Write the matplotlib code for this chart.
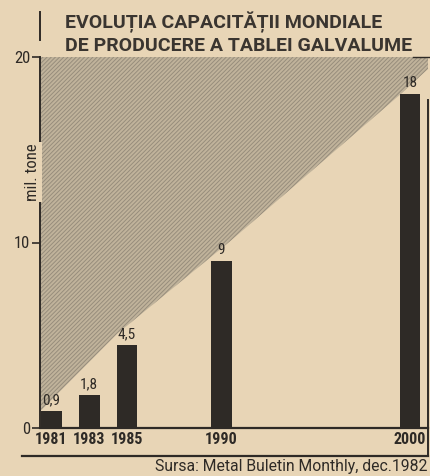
import matplotlib
matplotlib.use("Agg")
import matplotlib.pyplot as plt
from matplotlib.lines import Line2D

# ---- data ----
years = [1981, 1983, 1985, 1990, 2000]
values = [0.9, 1.8, 4.5, 9, 18]
value_labels = ["0,9", "1,8", "4,5", "9", "18"]
year_labels = ["1981", "1983", "1985", "1990", "2000"]
# upper hatched region lower boundary
env_years = [1980.4, 1984.5, 1990.5, 1999.5, 2001.0]
env_values = [0.9, 5.1, 10.1, 18.0, 19.4]
y_ticks = [0, 10, 20]
title_lines = ["EVOLUȚIA CAPACITĂȚII MONDIALE", "DE PRODUCERE A TABLEI GALVALUME"]
y_label = "mil. tone"
source = "Sursa: Metal Buletin Monthly, dec.1982"

plt.rcParams['font.family'] = ["Roboto Condensed", "DejaVu Sans"]
plt.rcParams['hatch.linewidth'] = 0.7

bg = "#e8d5b6"
ink = "#2e2a26"
W, H = 431, 476
fig = plt.figure(figsize=(W / 100, H / 100), dpi=100, facecolor=bg)

def fx(px): return px / W
def fy(py): return 1 - py / H

ax = fig.add_axes([fx(40), fy(428), fx(428) - fx(40), fy(57) - fy(428)])
ax.set_facecolor(bg)
ax.set_xlim(1980.39, 2000.95)
ax.set_ylim(0, 20)

ax.fill_between(env_years, env_values, 20, facecolor="#c0b39b", edgecolor="#978d7c",
                hatch="////////", linewidth=0, zorder=1)
ax.bar(years, values, width=1.1, color=ink, zorder=2)
for x, v, lab in zip(years, values, value_labels):
    ax.text(x, v + 0.2, lab, ha="center", va="bottom", fontsize=11, color=ink, zorder=3)

ax.spines["top"].set_visible(False)
ax.spines["right"].set_visible(False)
ax.spines["left"].set_color(ink)
ax.spines["bottom"].set_color(ink)
ax.spines["left"].set_linewidth(1.4)
ax.spines["bottom"].set_linewidth(1.6)

ax.set_yticks(y_ticks)
ax.set_yticklabels([str(t) for t in y_ticks], fontsize=12, color=ink)
ax.tick_params(axis="y", direction="out", length=6, width=1.2, color=ink, pad=1)
ax.set_xticks(years)
ax.set_xticklabels(year_labels, fontsize=11.5, color=ink, fontweight="bold")
ax.tick_params(axis="x", length=0, pad=3)

fig.text(fx(33), fy(172), y_label, rotation=90, ha="center", va="center", fontsize=12,
         color=ink, bbox=dict(facecolor=bg, edgecolor="none", pad=1))

# frame lines
fig.add_artist(Line2D([fx(40), fx(40)], [fy(12), fy(40)], color=ink, lw=1.4))
fig.add_artist(Line2D([fx(428), fx(428)], [fy(100), fy(456)], color=ink, lw=1.4))
fig.add_artist(Line2D([fx(22), fx(428)], [fy(456), fy(456)], color=ink, lw=1.6))
fig.add_artist(Line2D([fx(413), fx(431)], [fy(57), fy(57)], color=ink, lw=1.0))

title_font = ["Roboto", "DejaVu Sans"]
fig.text(fx(65), fy(22), title_lines[0], ha="left", va="center", fontsize=14,
         fontweight="bold", color="#3a3530", family=title_font)
fig.text(fx(65), fy(46), title_lines[1], ha="left", va="center", fontsize=14,
         fontweight="bold", color="#3a3530", family=title_font)
fig.text(fx(428), fy(467), source, ha="right", va="center", fontsize=11.3, color=ink,
         family=["Roboto", "DejaVu Sans"])

fig.savefig("out.png", dpi=100, facecolor=bg)
